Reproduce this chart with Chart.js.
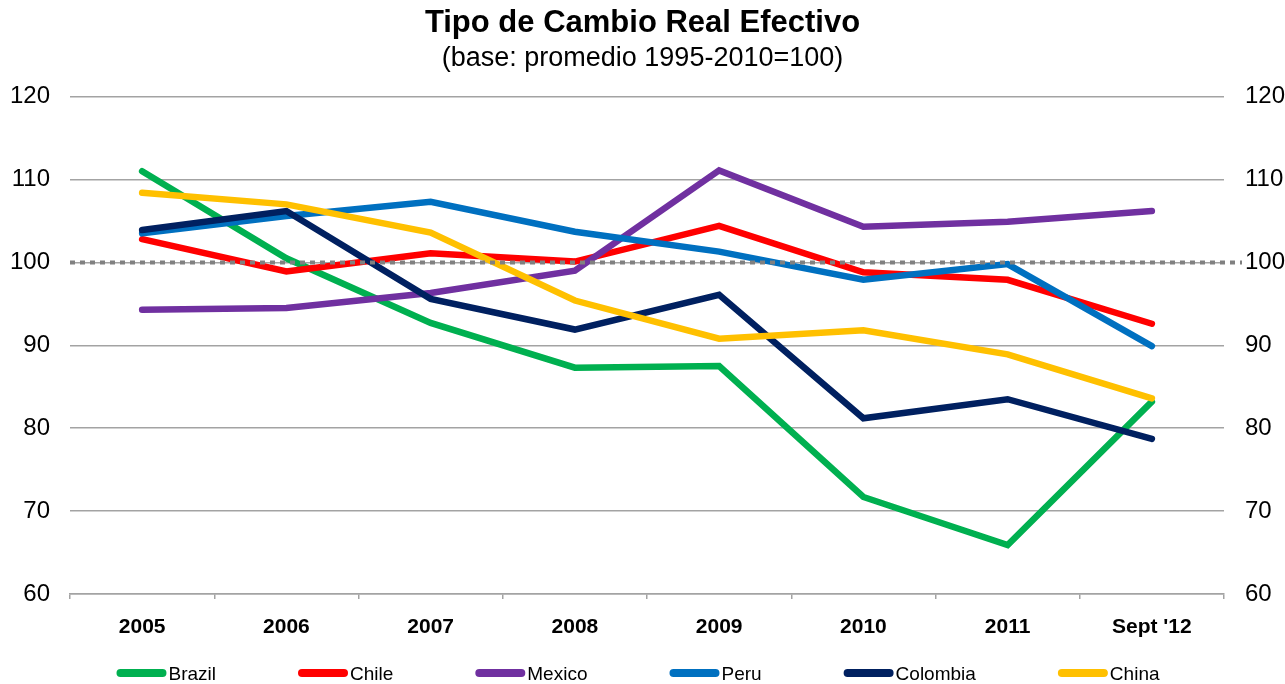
<!DOCTYPE html>
<html>
<head>
<meta charset="utf-8">
<script src="https://cdn.jsdelivr.net/npm/chart.js@4/dist/chart.umd.min.js"></script>
<style>
    html, body { margin: 0; padding: 0; background: #fff; overflow: hidden; }
    #wrap { width: 1285px; height: 684px; }
</style>
</head>
<body>
<div id="wrap"><canvas id="tcr"></canvas></div>
<script>
// Tipo de cambio real efectivo, base promedio 1995-2010 = 100
const years    = ['2005', '2006', '2007', '2008', '2009', '2010', '2011', "Sept '12"];
const brazil   = [111.0, 100.5, 92.7, 87.3, 87.5, 71.7, 65.9, 83.2];
const chile    = [102.8, 98.9, 101.1, 100.1, 104.4, 98.8, 97.9, 92.6];
const mexico   = [94.3, 94.5, 96.3, 99.0, 111.1, 104.3, 104.9, 106.2];
const peru     = [103.5, 105.6, 107.3, 103.7, 101.3, 97.9, 99.8, 89.9];
const colombia = [103.9, 106.2, 95.6, 91.9, 96.1, 81.2, 83.5, 78.7];
const china    = [108.4, 107.0, 103.6, 95.4, 90.8, 91.8, 88.9, 83.6];
const yTicks   = [60, 70, 80, 90, 100, 110, 120];
const baseLine = 100;

const FONT = '"Liberation Sans", Arial, sans-serif';
const gridGrey = '#a3a3a3';

const series = [
    { label: 'Brazil',   data: brazil,   color: '#00b050' },
    { label: 'Chile',    data: chile,    color: '#ff0000' },
    { label: 'Mexico',   data: mexico,   color: '#7030a0' },
    { label: 'Peru',     data: peru,     color: '#0070c0' },
    { label: 'Colombia', data: colombia, color: '#002060' },
    { label: 'China',    data: china,    color: '#ffc000' }
];

// dotted reference line at 100, drawn over the series
const baseLinePlugin = {
    id: 'baseLine',
    afterDatasetsDraw(chart) {
        const { ctx, chartArea, scales } = chart;
        const y = scales.y.getPixelForValue(baseLine);
        ctx.save();
        ctx.strokeStyle = '#808080';
        ctx.lineWidth = 4;
        ctx.setLineDash([5, 5]);
        ctx.beginPath();
        ctx.moveTo(chartArea.left, y);
        ctx.lineTo(chartArea.right + 18, y);
        ctx.stroke();
        ctx.restore();
    }
};

// legend row at the bottom: line swatch + label, spread like the original
const lineLegend = {
    id: 'lineLegend',
    afterDraw(chart) {
        const ctx = chart.ctx;
        ctx.save();
        ctx.font = '19px ' + FONT;
        ctx.textBaseline = 'middle';
        const items = chart.data.datasets;
        const sw = 50, gap = 82;
        const widths = items.map(d => sw + 2 + ctx.measureText(d.label).width);
        const total = widths.reduce((a, b) => a + b, 0) + gap * (items.length - 1);
        let x = 638 - total / 2;
        const y = 675;
        items.forEach((d, i) => {
            ctx.strokeStyle = d.borderColor;
            ctx.lineWidth = 8;
            ctx.lineCap = 'round';
            ctx.beginPath();
            ctx.moveTo(x + 4, y - 2);
            ctx.lineTo(x + sw - 4, y - 2);
            ctx.stroke();
            ctx.fillStyle = '#000';
            ctx.fillText(d.label, x + sw + 2, y);
            x += widths[i] + gap;
        });
        ctx.restore();
    }
};

new Chart(document.getElementById('tcr'), {
    type: 'line',
    data: {
        labels: years,
        datasets: series.map((s, i) => ({
            label: s.label,
            data: s.data,
            borderColor: s.color,
            backgroundColor: s.color,
            borderWidth: 6.5,
            borderCapStyle: 'round',
            borderJoinStyle: 'miter',
            pointRadius: 0,
            tension: 0,
            order: series.length - i
        }))
    },
    options: {
        responsive: true,
        maintainAspectRatio: false,
        animation: false,
        layout: { padding: { left: 0, right: 0, top: 0, bottom: 0 } },
        plugins: {
            legend: { display: false },
            tooltip: { enabled: false },
            title: {
                display: true,
                text: 'Tipo de Cambio Real Efectivo',
                color: '#000',
                font: { family: FONT, size: 31, weight: 'bold' },
                padding: { top: 5, bottom: 0 }
            },
            subtitle: {
                display: true,
                text: '(base: promedio 1995-2010=100)',
                color: '#000',
                font: { family: FONT, size: 27 },
                padding: { top: 0, bottom: 22 }
            }
        },
        scales: {
            x: {
                offset: true,
                grid: { display: true, offset: true, drawOnChartArea: false, drawTicks: true, tickLength: 5, color: gridGrey, lineWidth: 1.5 },
                border: { display: true, color: gridGrey, width: 1.5 },
                ticks: { color: '#000', padding: 16, font: { family: FONT, size: 21, weight: 'bold' }, maxRotation: 0 },
                afterFit: s => { s.height = 90; }
            },
            y: {
                position: 'left',
                min: yTicks[0], max: yTicks[yTicks.length - 1],
                afterBuildTicks: s => { s.ticks = yTicks.map(v => ({ value: v })); },
                grid: { color: gridGrey, lineWidth: 1.5, drawTicks: false },
                border: { display: false },
                ticks: { color: '#000', padding: 20, font: { family: FONT, size: 24 } },
                afterFit: s => { s.width = 70; }
            },
            y2: {
                position: 'right',
                min: yTicks[0], max: yTicks[yTicks.length - 1],
                afterBuildTicks: s => { s.ticks = yTicks.map(v => ({ value: v })); },
                grid: { drawOnChartArea: false, drawTicks: false },
                border: { display: false },
                ticks: { color: '#000', padding: 21, font: { family: FONT, size: 24 } },
                afterFit: s => { s.width = 61; }
            }
        }
    },
    plugins: [baseLinePlugin, lineLegend]
});
</script>
</body>
</html>
